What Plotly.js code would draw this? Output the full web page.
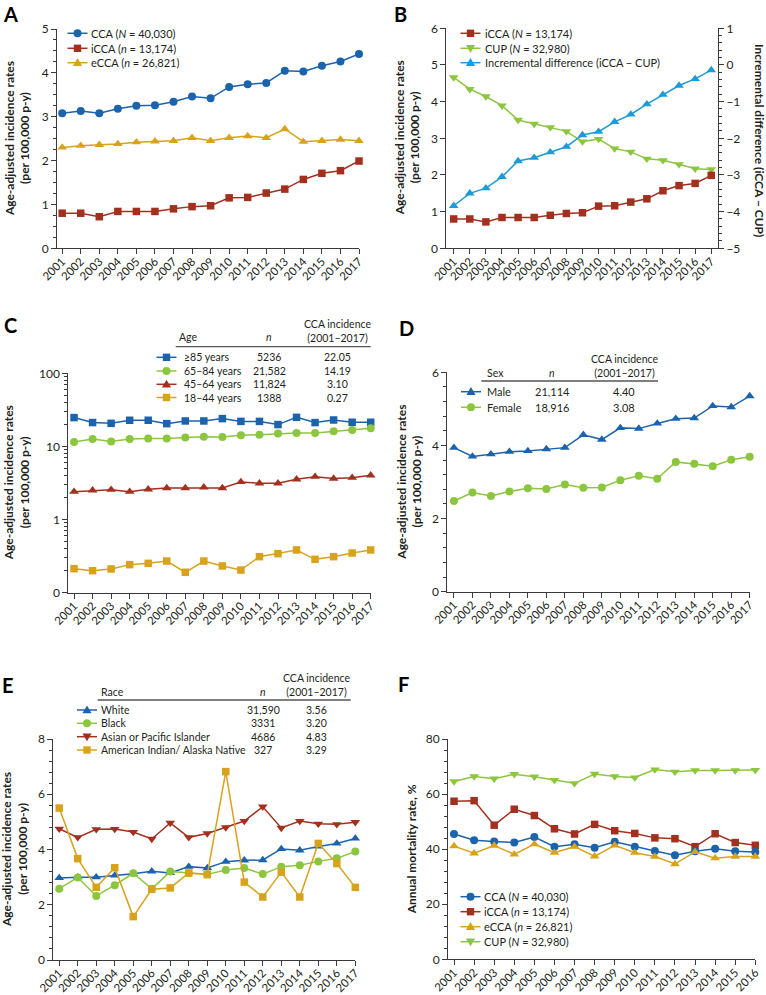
<!DOCTYPE html>
<html><head><meta charset="utf-8">
<script src="https://cdn.plot.ly/plotly-3.0.1.min.js"></script>
<style>html,body{margin:0;padding:0;background:#fff}#chart{width:766px;height:995px}</style>
</head><body><div id="chart"></div>
<script>
// ---------- DATA ----------
const years = [2001,2002,2003,2004,2005,2006,2007,2008,2009,2010,2011,2012,2013,2014,2015,2016,2017];
const yearsF = [2001,2002,2003,2004,2005,2006,2007,2008,2009,2010,2011,2012,2013,2014,2015,2016];

// Panel A
const a_cca  = [3.08,3.13,3.08,3.18,3.25,3.26,3.34,3.46,3.42,3.68,3.74,3.77,4.05,4.03,4.16,4.26,4.43];
const a_icca = [0.80,0.80,0.72,0.84,0.84,0.84,0.90,0.95,0.97,1.15,1.16,1.26,1.35,1.57,1.71,1.77,1.99];
const a_ecca = [2.30,2.34,2.36,2.38,2.42,2.44,2.45,2.52,2.45,2.52,2.56,2.52,2.72,2.43,2.45,2.48,2.45];
const a_labels = ['CCA (<i>N</i> = 40,030)','iCCA (<i>n</i> = 13,174)','eCCA (<i>n</i> = 26,821)'];

// Panel B
const b_icca = [0.80,0.80,0.72,0.84,0.84,0.84,0.90,0.95,0.97,1.15,1.16,1.26,1.35,1.57,1.71,1.77,1.99];
const b_cup  = [4.66,4.34,4.14,3.89,3.50,3.39,3.30,3.19,2.91,2.98,2.72,2.63,2.44,2.40,2.29,2.17,2.15];
const b_diff = [-3.84,-3.50,-3.36,-3.05,-2.62,-2.53,-2.38,-2.23,-1.91,-1.82,-1.55,-1.35,-1.07,-0.81,-0.56,-0.38,-0.14];
const b_labels = ['iCCA (<i>N</i> = 13,174)','CUP (<i>N</i> = 32,980)','Incremental difference (iCCA − CUP)'];

// Panel C (log scale)
const c_85 = [24.8,21.2,20.7,22.8,22.8,20.5,22.3,22.3,24.0,22.0,22.0,19.9,25.0,21.2,23.0,21.4,21.4];
const c_65 = [11.5,12.6,11.7,12.6,12.8,12.8,13.3,13.6,13.5,14.2,14.5,15.0,15.3,15.3,16.1,16.8,17.7];
const c_45 = [2.41,2.51,2.56,2.41,2.59,2.70,2.70,2.76,2.70,3.27,3.13,3.13,3.55,3.86,3.63,3.74,4.03];
const c_18 = [0.213,0.200,0.211,0.242,0.252,0.271,0.190,0.271,0.232,0.204,0.311,0.342,0.384,0.286,0.311,0.349,0.384];
const c_groups = ['≥85 years','65–84 years','45–64 years','18–44 years'];
const c_n   = ['5236','21,582','11,824','1388'];
const c_inc = ['22.05','14.19','3.10','0.27'];
const c_tickvals = [0.1,1,10,100];
const c_ticktext = ['0','1','10','100'];

// Panel D
const d_male   = [3.94,3.70,3.76,3.83,3.85,3.90,3.94,4.29,4.16,4.48,4.46,4.60,4.73,4.75,5.08,5.05,5.35];
const d_female = [2.48,2.71,2.62,2.74,2.83,2.81,2.93,2.84,2.85,3.05,3.17,3.09,3.55,3.50,3.43,3.61,3.69];
const d_groups = ['Male','Female'];
const d_n   = ['21,114','18,916'];
const d_inc = ['4.40','3.08'];

// Panel E
const e_white = [2.97,3.00,3.00,3.06,3.12,3.21,3.15,3.38,3.33,3.56,3.61,3.62,4.02,3.97,4.11,4.22,4.40];
const e_black = [2.58,2.99,2.32,2.71,3.14,2.58,3.20,3.14,3.10,3.26,3.33,3.11,3.38,3.43,3.57,3.68,3.93];
const e_asian = [4.75,4.44,4.73,4.74,4.63,4.38,4.96,4.44,4.58,4.80,5.03,5.55,4.78,5.03,4.93,4.91,4.99];
const e_aian  = [5.50,3.67,2.63,3.34,1.57,2.56,2.61,3.15,3.09,6.82,2.82,2.28,3.18,2.28,4.22,3.49,2.63];
const e_groups = ['White','Black','Asian or Pacific Islander','American Indian/ Alaska Native'];
const e_n   = ['31,590','3331','4686','327'];
const e_inc = ['3.56','3.20','4.83','3.29'];

// Panel F
const f_cca  = [45.5,43.2,42.8,42.4,44.4,40.9,41.8,40.5,42.7,40.9,39.3,37.8,39.2,40.1,39.2,39.0];
const f_icca = [57.4,57.6,48.7,54.5,52.2,47.4,45.5,49.0,46.7,45.7,44.1,43.8,40.9,45.6,42.4,41.4];
const f_ecca = [41.1,38.5,41.3,38.1,41.8,38.7,40.9,37.4,41.4,38.7,37.3,34.6,39.0,36.7,37.3,37.3];
const f_cup  = [64.6,66.4,65.6,67.2,66.3,65.1,63.9,67.3,66.4,66.0,68.9,68.1,68.6,68.6,68.6,68.7];
const f_labels = ['CCA (<i>N</i> = 40,030)','iCCA (<i>n</i> = 13,174)','eCCA (<i>n</i> = 26,821)','CUP (<i>N</i> = 32,980)'];

const yTitle = 'Age-adjusted incidence rates<br>(per 100,000 p-y)';

// ---------- STYLE / LAYOUT CONSTANTS ----------
const W = 766, H = 995;
const FONT = 'Lato, "Open Sans", sans-serif';
const TXT = '#231f20', AX = '#3a3a3a';
const BLUE = '#1b63ad', RED = '#a3301f', GOLD = '#d9a21b', GREEN = '#8cc63f', LBLUE = '#1e9bd7';
const LEG_SIZE = 11, TAB_SIZE = 10.5;
const px = x => x / W, py = y => 1 - y / H;

const G = {
  A:{l:57,   r:359,   t:29,    b:248.3, x0:2000.72, x1:2017},
  B:{l:446.3,r:718,   t:28.3,  b:248.3, x0:2000.54, x1:2017.42},
  C:{l:68.3, r:370.7, t:373.3, b:592.7, x0:2000.69, x1:2017},
  D:{l:447.3,r:749.7, t:372.3, b:591.7, x0:2000.64, x1:2017},
  E:{l:53.3, r:355.3, t:739,   b:960,   x0:2000.68, x1:2017},
  F:{l:448,  r:755.3, t:739,   b:959.3, x0:2000.70, x1:2016}
};

const SYM = {circle:{sym:'circle',size:8}, square:{sym:'square',size:7.5}, up:{sym:'triangle-up',size:8.5}, down:{sym:'triangle-down',size:8.5}};

function tr(x, y, xa, ya, color, s) {
  return {x, y, xaxis:xa, yaxis:ya, type:'scatter', mode:'lines+markers', cliponaxis:false,
    line:{color, width:1.5}, marker:{color, symbol:SYM[s].sym, size:SYM[s].size, line:{width:0}},
    showlegend:false, hoverinfo:'x+y'};
}

function xAxis(g, anchor, tv) {
  return {domain:[px(g.l), px(g.r)], range:[g.x0, g.x1], anchor, tickmode:'array', tickvals:tv, ticktext:tv.map(String),
    tickangle:-45, ticklabelstandoff:-4, showline:true, linecolor:AX, linewidth:1, ticks:'outside', ticklen:5, tickcolor:AX,
    showgrid:false, zeroline:false, tickfont:{family:FONT, size:11.5, color:TXT}, fixedrange:true};
}
function yAxis(g, anchor, range, dtick, minorDtick) {
  const a = {domain:[py(g.b), py(g.t)], range, anchor, tick0:0, dtick, showline:true, linecolor:AX, linewidth:1,
    ticks:'outside', ticklen:5, tickcolor:AX, showgrid:false, zeroline:false,
    tickfont:{family:FONT, size:12, color:TXT}, fixedrange:true};
  if (minorDtick) a.minor = {ticks:'outside', ticklen:3, tickcolor:AX, dtick:minorDtick, showgrid:false};
  return a;
}

const data = [
  tr(years, a_cca, 'x', 'y', BLUE, 'circle'),
  tr(years, a_ecca, 'x', 'y', GOLD, 'up'),
  tr(years, a_icca, 'x', 'y', RED, 'square'),

  tr(years, b_cup, 'x2', 'y2', GREEN, 'down'),
  tr(years, b_diff, 'x2', 'y7', LBLUE, 'up'),
  tr(years, b_icca, 'x2', 'y2', RED, 'square'),

  tr(years, c_85, 'x3', 'y3', BLUE, 'square'),
  tr(years, c_65, 'x3', 'y3', GREEN, 'circle'),
  tr(years, c_45, 'x3', 'y3', RED, 'up'),
  tr(years, c_18, 'x3', 'y3', GOLD, 'square'),

  tr(years, d_male, 'x4', 'y4', BLUE, 'up'),
  tr(years, d_female, 'x4', 'y4', GREEN, 'circle'),

  tr(years, e_asian, 'x5', 'y5', RED, 'down'),
  tr(years, e_white, 'x5', 'y5', BLUE, 'up'),
  tr(years, e_black, 'x5', 'y5', GREEN, 'circle'),
  tr(years, e_aian, 'x5', 'y5', GOLD, 'square'),

  tr(yearsF, f_cup, 'x6', 'y6', GREEN, 'down'),
  tr(yearsF, f_icca, 'x6', 'y6', RED, 'square'),
  tr(yearsF, f_cca, 'x6', 'y6', BLUE, 'circle'),
  tr(yearsF, f_ecca, 'x6', 'y6', GOLD, 'up')
];

const layout = {
  width:W, height:H, margin:{l:0, r:0, t:0, b:0}, paper_bgcolor:'#fff', plot_bgcolor:'rgba(0,0,0,0)',
  font:{family:FONT, color:TXT, size:11}, showlegend:false,
  xaxis:  xAxis(G.A, 'y', years),
  xaxis2: xAxis(G.B, 'y2', years),
  xaxis3: xAxis(G.C, 'y3', years),
  xaxis4: xAxis(G.D, 'y4', years),
  xaxis5: xAxis(G.E, 'y5', years),
  xaxis6: xAxis(G.F, 'y6', yearsF),
  yaxis:  yAxis(G.A, 'x', [0,5], 1, 0.25),
  yaxis2: yAxis(G.B, 'x2', [0,6], 1, null),
  yaxis3: Object.assign(yAxis(G.C, 'x3', [-1,2], 1, null), {type:'log', tickmode:'array', tickvals:c_tickvals, ticktext:c_ticktext,
            minor:{ticks:'outside', ticklen:3, tickcolor:AX, dtick:'D1', showgrid:false}}),
  yaxis4: yAxis(G.D, 'x4', [0,6], 2, 0.4),
  yaxis5: yAxis(G.E, 'x5', [0,8], 2, 0.4),
  yaxis6: yAxis(G.F, 'x6', [0,80], 20, 4),
  yaxis7: Object.assign(yAxis(G.B, 'x2', [-5,1], 1, 0.2), {overlaying:'y2', side:'right'}),
  shapes:[], annotations:[]
};

// ---------- annotation helpers ----------
function text(x, y, t, opt, size) {
  layout.annotations.push(Object.assign({xref:'paper', yref:'paper', x:px(x), y:py(y), text:t, showarrow:false,
    xanchor:'left', yanchor:'middle', font:{family:FONT, size:size || TAB_SIZE, color:TXT}}, opt || {}));
}
function key(cx, cy, color, s) {
  layout.shapes.push({type:'line', xref:'paper', yref:'paper', x0:px(cx-10), x1:px(cx+10), y0:py(cy), y1:py(cy),
    line:{color, width:1.5}});
  const base = {xref:'paper', yref:'paper', xsizemode:'pixel', ysizemode:'pixel', xanchor:px(cx), yanchor:py(cy),
    fillcolor:color, line:{width:0}};
  if (s === 'circle') layout.shapes.push(Object.assign({type:'circle', x0:-4, x1:4, y0:-4, y1:4}, base));
  else if (s === 'square') layout.shapes.push(Object.assign({type:'rect', x0:-3.7, x1:3.7, y0:-3.7, y1:3.7}, base));
  else if (s === 'up') layout.shapes.push(Object.assign({type:'path', path:'M-4.6,-3.3L4.6,-3.3L0,4.6Z'}, base));
  else layout.shapes.push(Object.assign({type:'path', path:'M-4.6,3.3L4.6,3.3L0,-4.6Z'}, base));
}
function hline(x0, x1, y) {
  layout.shapes.push({type:'line', xref:'paper', yref:'paper', x0:px(x0), x1:px(x1), y0:py(y), y1:py(y), line:{color:'#555', width:1.3}});
}
function ytitle(x, y, t, angle) {
  text(x, y, t, {xanchor:'center', yanchor:'middle', textangle:angle || -90, font:{family:FONT, size:12, color:TXT, weight:700}});
}
function panel(x, y, t) {
  text(x, y, t, {xanchor:'center', yanchor:'middle', font:{family:FONT, size:20, color:'#000', weight:700}});
}

// Panel letters
panel(10, 14, 'A'); panel(400, 14, 'B'); panel(10, 325, 'C'); panel(406, 328, 'D'); panel(8, 685, 'E'); panel(403, 684, 'F');

// Y titles
ytitle(17.5, 138.6, yTitle);
ytitle(407, 138.3, yTitle);
ytitle(759, 140, 'Incremental difference (iCCA − CUP)', 90);
ytitle(17.3, 483, yTitle);
ytitle(409.7, 482, yTitle);
ytitle(14.5, 849.5, yTitle);
ytitle(411.3, 849, 'Annual mortality rate, %');

// Panel A legend
const aRows = [33.3, 48.3, 62.7], aCols = [BLUE, RED, GOLD], aSym = ['circle','square','up'];
a_labels.forEach((l, i) => { key(77.5, aRows[i], aCols[i], aSym[i]); text(89.3, aRows[i], l, null, LEG_SIZE); });

// Panel B legend
const bCols = [RED, GREEN, LBLUE], bSym = ['square','down','up'];
b_labels.forEach((l, i) => { key(470.5, aRows[i], bCols[i], bSym[i]); text(483, aRows[i], l, null, LEG_SIZE); });

// Panel C table
text(176.5, 337.5, 'Age');
text(268.5, 337.5, '<i>n</i>', {xanchor:'center'});
text(337, 330.5, 'CCA incidence<br>(2001–2017)', {xanchor:'center'});
hline(175.7, 370.7, 346.7);
const cRows = [357.3, 371, 384.3, 397.5], cCols = [BLUE, GREEN, RED, GOLD], cSym = ['square','circle','up','square'];
c_groups.forEach((g, i) => {
  key(166.5, cRows[i], cCols[i], cSym[i]);
  text(181.7, cRows[i], g);
  text(269, cRows[i], c_n[i], {xanchor:'center'});
  text(337, cRows[i], c_inc[i], {xanchor:'center'});
});

// Panel D table
text(484.7, 373.3, 'Sex');
text(552.3, 373.3, '<i>n</i>', {xanchor:'center'});
text(624, 365.8, 'CCA incidence<br>(2001–2017)', {xanchor:'center'});
hline(481.3, 658, 381);
const dRows = [391.7, 407.3], dCols = [BLUE, GREEN], dSym = ['up','circle'];
d_groups.forEach((g, i) => {
  key(471, dRows[i], dCols[i], dSym[i]);
  text(485, dRows[i], g, null, LEG_SIZE);
  text(552.3, dRows[i], d_n[i], {xanchor:'center'}, LEG_SIZE);
  text(624, dRows[i], d_inc[i], {xanchor:'center'}, LEG_SIZE);
});

// Panel E table
text(98.7, 691.7, 'Race');
text(263.3, 691.7, '<i>n</i>', {xanchor:'center'});
text(316, 684.5, 'CCA incidence<br>(2001–2017)', {xanchor:'center'});
hline(97.7, 350.7, 700);
const eRows = [710, 723.3, 736.7, 750], eCols = [BLUE, GREEN, RED, GOLD], eSym = ['up','circle','down','square'];
e_groups.forEach((g, i) => {
  key(87, eRows[i], eCols[i], eSym[i]);
  text(98.7, eRows[i], g);
  text(263.3, eRows[i], e_n[i], {xanchor:'center'});
  text(316.7, eRows[i], e_inc[i], {xanchor:'center'});
});

// Panel F legend
const fRows = [896.7, 911.7, 926.7, 941.7], fCols = [BLUE, RED, GOLD, GREEN], fSym = ['circle','square','up','down'];
f_labels.forEach((l, i) => { key(470.5, fRows[i], fCols[i], fSym[i]); text(482.3, fRows[i], l, null, LEG_SIZE); });

Plotly.newPlot('chart', data, layout, {displayModeBar:false, staticPlot:true});
</script></body></html>
